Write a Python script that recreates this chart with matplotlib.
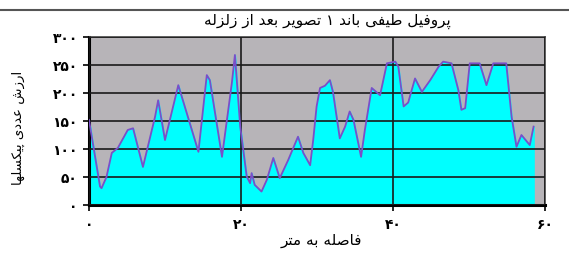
import matplotlib
matplotlib.use("Agg")
import matplotlib.pyplot as plt
from matplotlib.lines import Line2D

# distance along the profile (m) and pixel value
distance = [0.0, 1.45, 1.65, 2.3, 3.0, 3.8, 5.1, 5.8, 7.1, 8.7, 9.1, 10.0,
            11.75, 14.4, 15.5, 15.9, 17.5, 18.8, 19.2, 19.9, 20.75, 21.2,
            21.4, 21.8, 22.7, 23.4, 24.25, 25.1, 26.2, 27.5, 28.2, 29.1,
            29.5, 29.95, 30.4, 31.05, 31.7, 32.1, 33.0, 33.7, 34.3, 34.8,
            35.8, 36.3, 37.2, 38.3, 39.2, 40.3, 40.7, 41.4, 42.0, 42.9,
            43.8, 44.9, 46.0, 46.6, 47.7, 48.6, 49.0, 49.5, 50.1, 51.4,
            52.3, 53.2, 54.9, 55.6, 56.25, 56.9, 58.0, 58.5]
pixel_value = [152, 33, 30, 50, 93, 102, 134, 137, 68, 158, 187, 116,
               214, 95, 232, 223, 86, 218, 268, 140, 51, 39,
               57, 36, 24, 45, 84, 48, 80, 122, 93, 71,
               116, 176, 209, 213, 223, 202, 119, 140, 167, 152,
               86, 134, 209, 196, 253, 256, 247, 176, 183, 226,
               202, 223, 247, 256, 253, 205, 170, 173, 253, 253,
               214, 253, 253, 158, 104, 125, 107, 140]

y_ticks = [0, 50, 100, 150, 200, 250, 300]
x_ticks = [0, 20, 40, 60]

title = "پروفیل طیفی باند ۱ تصویر بعد از زلزله"
x_label = "فاصله به متر"
y_label = "ارزش عددی پیکسلها"

# matplotlib has no Arabic shaping, so pick presentation forms by hand
# (isolated, final, initial, medial); two forms = joins to the right only
FORMS = {
    "ا": "\uFE8D\uFE8E", "د": "\uFEA9\uFEAA", "ر": "\uFEAD\uFEAE",
    "ز": "\uFEAF\uFEB0", "و": "\uFEED\uFEEE",
    "ب": "\uFE8F\uFE90\uFE91\uFE92", "پ": "\uFB56\uFB57\uFB58\uFB59",
    "ت": "\uFE95\uFE96\uFE97\uFE98", "س": "\uFEB1\uFEB2\uFEB3\uFEB4",
    "ش": "\uFEB5\uFEB6\uFEB7\uFEB8", "ص": "\uFEB9\uFEBA\uFEBB\uFEBC",
    "ط": "\uFEC1\uFEC2\uFEC3\uFEC4", "ع": "\uFEC9\uFECA\uFECB\uFECC",
    "ف": "\uFED1\uFED2\uFED3\uFED4", "ک": "\uFB8E\uFB8F\uFB90\uFB91",
    "ل": "\uFEDD\uFEDE\uFEDF\uFEE0", "م": "\uFEE1\uFEE2\uFEE3\uFEE4",
    "ن": "\uFEE5\uFEE6\uFEE7\uFEE8", "ه": "\uFEE9\uFEEA\uFEEB\uFEEC",
    "ی": "\uFBFC\uFBFD\uFBFE\uFBFF",
}


def shape(text):
    out = []
    for i, ch in enumerate(text):
        if ch not in FORMS:
            out.append(ch)
            continue
        prev = text[i - 1] if i > 0 else ""
        nxt = text[i + 1] if i + 1 < len(text) else ""
        join_prev = prev in FORMS and len(FORMS[prev]) == 4
        join_next = len(FORMS[ch]) == 4 and nxt in FORMS
        f = FORMS[ch]
        if join_prev and join_next:
            out.append(f[3])
        elif join_prev:
            out.append(f[1])
        elif join_next:
            out.append(f[2])
        else:
            out.append(f[0])
    return "".join(reversed(out))


def fa_digits(n):
    return str(n).translate(str.maketrans("0123456789", "۰۱۲۳۴۵۶۷۸۹"))


plt.rcParams["font.family"] = ["DejaVu Sans"]

fig = plt.figure(figsize=(5.69, 2.57), dpi=100)
ax = fig.add_axes([0.1564, 0.2023, 0.8014, 0.6537])
ax.set_facecolor("#b7b4b8")

ax.fill_between(distance, pixel_value, color="#00ffff", zorder=2)
ax.plot(distance, pixel_value, color="#7a4fc8", linewidth=1.3, zorder=3)

ax.set_xlim(0, 60)
ax.set_ylim(0, 300)
ax.set_yticks(y_ticks)
ax.set_yticklabels([fa_digits(v) for v in y_ticks], fontsize=10, fontweight="bold")
ax.set_xticks(x_ticks)
ax.set_xticklabels([fa_digits(v) for v in x_ticks], fontsize=10, fontweight="bold")
ax.tick_params(axis="both", direction="out", length=4, width=1.2, color="black")
ax.tick_params(axis="y", pad=4)
ax.tick_params(axis="x", pad=5)

ax.grid(True, axis="both", color="#1a1a1a", linewidth=1.2, zorder=1)
ax.set_axisbelow(False)
for gl in ax.get_xgridlines() + ax.get_ygridlines():
    gl.set_zorder(1)

for side in ["left", "bottom"]:
    ax.spines[side].set_linewidth(2.2)
    ax.spines[side].set_color("black")
for side in ["top", "right"]:
    ax.spines[side].set_linewidth(1.2)
    ax.spines[side].set_color("#444444")

fig.text(327 / 569, 1 - 21 / 257, shape(title), ha="center", va="center",
         fontsize=11)
fig.text(321 / 569, 1 - 240 / 257, shape(x_label), ha="center", va="center",
         fontsize=11)
fig.text(18 / 569, 1 - 128 / 257, shape(y_label), ha="center", va="center",
         rotation=90, fontsize=9.5)

# frame line across the top of the chart area
fig.add_artist(Line2D([0, 1], [1 - 10 / 257, 1 - 10 / 257], color="#555555",
                      linewidth=1.5, transform=fig.transFigure))

fig.savefig("out.png", dpi=100)
